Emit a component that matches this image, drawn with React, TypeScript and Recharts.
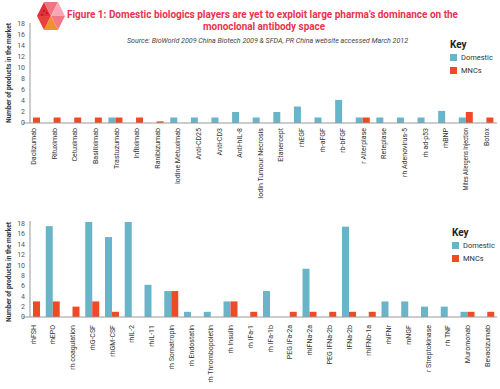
import { ReactElement } from 'react'
import { Bar, BarChart, XAxis, YAxis } from 'recharts'

const FONT = "Roboto, 'Noto Sans', sans-serif"
const BLUE = '#6ab4c9'
const RED = '#ef4a26'

const yTicks = [0, 2, 4, 6, 8, 10, 12, 14, 16, 18]
const seriesNames = ['Domestic', 'MNCs']
const seriesColors = [BLUE, RED]

// top panel: antibodies and others
const topNames = [
  'Daclizumab', 'Rituximab', 'Cetuximab', 'Basiliximab', 'Trastuzumab', 'Infliximab',
  'Ranibizumab', 'Iodine Metuximab', 'Anti-CD25', 'Anti-CD3', 'Anti-hIL-8',
  'Iodin Tumour Necrosis', 'Etanercept', 'rhEGF', 'rh-aFGF', 'rb-bFGF', 'r Alterplase',
  'Reteplase', 'rh Adenovirus-5', 'rh ad-p53', 'rhBNP', 'Mites Allergens Injection', 'Botox',
]
const topDomestic = [0, 0, 0, 0, 1, 0, 0, 1, 1, 1, 2, 1, 2, 3, 1, 4.2, 1, 1, 1, 1, 2.2, 1, 0]
const topMncs = [1, 1, 1, 1, 1, 1, 0.3, 0, 0, 0, 0, 0, 0, 0, 0, 0, 1, 0, 0, 0, 0, 2, 1]

// bottom panel: recombinant proteins
const bottomNames = [
  'rhFSH', 'rhEPO', 'rh coagulation', 'rhG-CSF', 'rhGM-CSF', 'rhIL-2', 'rhIL-11',
  'rh Somatropin', 'rh Endostatin', 'rh Thrombopoietin', 'rh Insulin', 'rh IFa-1',
  'rh IFa-1b', 'PEG IFa-2a', 'rhIFNa-2a', 'PEG IFNa-2b', 'IFNa-2b', 'rhIFNb-1a',
  'rhIFNr', 'mNGF', 'r Streptokinase', 'rh TNF', 'Muromonab', 'Bevacizumab',
]
const bottomDomestic = [0, 17.5, 0, 18.3, 15.4, 18.3, 6.2, 5, 1, 1, 3, 0, 5, 0, 9.3, 0, 17.4, 0, 3, 3, 2, 2, 1, 0]
const bottomMncs = [3, 3, 2, 3, 1, 0, 0, 5, 0, 0, 3, 1, 0, 1, 1, 1, 1, 1, 0, 0, 0, 0, 1, 1]

const topData = topNames.map((name, i) => ({ name, domestic: topDomestic[i], mncs: topMncs[i] }))
const bottomData = bottomNames.map((name, i) => ({ name, domestic: bottomDomestic[i], mncs: bottomMncs[i] }))

function RotatedTick(props: any) {
  const { x, y, payload } = props
  const small = payload.value === 'Mites Allergens Injection'
  return (
    <text
      transform={`translate(${x},${y}) rotate(-90) scale(0.88,1)`}
      textAnchor="end"
      dy="0.35em"
      fontSize={small ? 6.5 : 8}
      fontFamily={FONT}
      fill="#333"
    >
      {payload.value}
    </text>
  )
}

function Key(props: { left: number; top: number }): ReactElement {
  return (
    <div style={{ position: 'absolute', left: props.left, top: props.top, fontFamily: FONT, color: '#333' }}>
      <div style={{ fontSize: 10, fontWeight: 'bold', lineHeight: '12px', color: '#222' }}>Key</div>
      {seriesNames.map((name, i) => (
        <div key={name} style={{ display: 'flex', alignItems: 'center', height: 13, fontSize: 7.5 }}>
          <span style={{ width: 7, height: 7, background: seriesColors[i], display: 'inline-block', marginRight: 4 }} />
          {name}
        </div>
      ))}
    </div>
  )
}

function Panel(props: { data: any[]; top: number; height: number; marginTop: number; axisHeight: number; tickGap: number }): ReactElement {
  const { data, top, height, marginTop, axisHeight, tickGap } = props
  return (
    <div style={{ position: 'absolute', left: 0, top }}>
      <BarChart width={500} height={height} data={data} margin={{ top: marginTop, right: 3, bottom: 0, left: 0 }} barGap={0} barSize={7}>
        <XAxis
          dataKey="name"
          interval={0}
          height={axisHeight}
          tickLine={false}
          tickSize={0}
          tickMargin={tickGap}
          axisLine={{ stroke: '#999' }}
          tick={<RotatedTick />}
        />
        <YAxis
          width={23}
          domain={[0, 18]}
          ticks={yTicks}
          interval={0}
          axisLine={false}
          tickLine={false}
          tickSize={0}
          tickMargin={0}
          tick={{ fontSize: 7, fontFamily: FONT, fill: '#555', dx: 2 }}
        />
        <Bar dataKey="domestic" name={seriesNames[0]} fill={BLUE} isAnimationActive={false} />
        <Bar dataKey="mncs" name={seriesNames[1]} fill={RED} isAnimationActive={false} />
      </BarChart>
    </div>
  )
}

export default function App(): ReactElement {
  return (
    <div style={{ position: 'absolute', left: 0, top: 0, width: 500, height: 389, background: '#fff', overflow: 'hidden' }}>
      <Panel data={topData} top={20} height={190} marginTop={4} axisHeight={87} tickGap={5} />
      <Panel data={bottomData} top={212} height={177} marginTop={10} axisHeight={72} tickGap={8} />
      <Key left={450} top={39} />
      <Key left={452} top={227} />
      <svg width={500} height={389} style={{ position: 'absolute', left: 0, top: 0, pointerEvents: 'none' }}>
        <polygon points="44,2 51,16 37,16" fill="#e52d3a" />
        <polygon points="44,2 58,2 51,16" fill="#f07482" />
        <polygon points="58,2 65,16 51,16" fill="#f6a9b4" />
        <polygon points="37,16 51,16 44,30" fill="#e8403c" />
        <polygon points="44,30 51,16 58,30" fill="#f0922c" />
        <polygon points="51,16 65,16 58,30" fill="#f27a86" />
        <circle cx={44} cy={11} r={0.8} fill="#7a1020" />
        <circle cx={47} cy={13} r={0.8} fill="#7a1020" />
        <circle cx={42} cy={15} r={0.8} fill="#7a1020" />
        <text x={67} y={18} textLength={391} lengthAdjust="spacingAndGlyphs" fontFamily={FONT} fontWeight="bold" fontSize={11} fill="#e8344f">
          Figure 1: Domestic biologics players are yet to exploit large pharma’s dominance on the
        </text>
        <text x={203} y={30} textLength={122} lengthAdjust="spacingAndGlyphs" fontFamily={FONT} fontWeight="bold" fontSize={11} fill="#e8344f">
          monoclonal antibody space
        </text>
        <text x={127} y={43} textLength={281} lengthAdjust="spacingAndGlyphs" fontFamily={FONT} fontStyle="italic" fontSize={7.5} fill="#444">
          Source: BioWorld 2009 China Biotech 2009 &amp; SFDA, PR China website accessed March 2012
        </text>
        <text transform="translate(11,123) rotate(-90)" textLength={100} lengthAdjust="spacingAndGlyphs" fontFamily={FONT} fontWeight="bold" fontSize={7.5} fill="#333">
          Number of products in the market
        </text>
        <text transform="translate(11,322) rotate(-90)" textLength={100} lengthAdjust="spacingAndGlyphs" fontFamily={FONT} fontWeight="bold" fontSize={7.5} fill="#333">
          Number of products in the market
        </text>
        <line x1={30} y1={23} x2={30} y2={123} stroke="#999" />
        <line x1={30} y1={221} x2={30} y2={317} stroke="#999" />
      </svg>
    </div>
  )
}
